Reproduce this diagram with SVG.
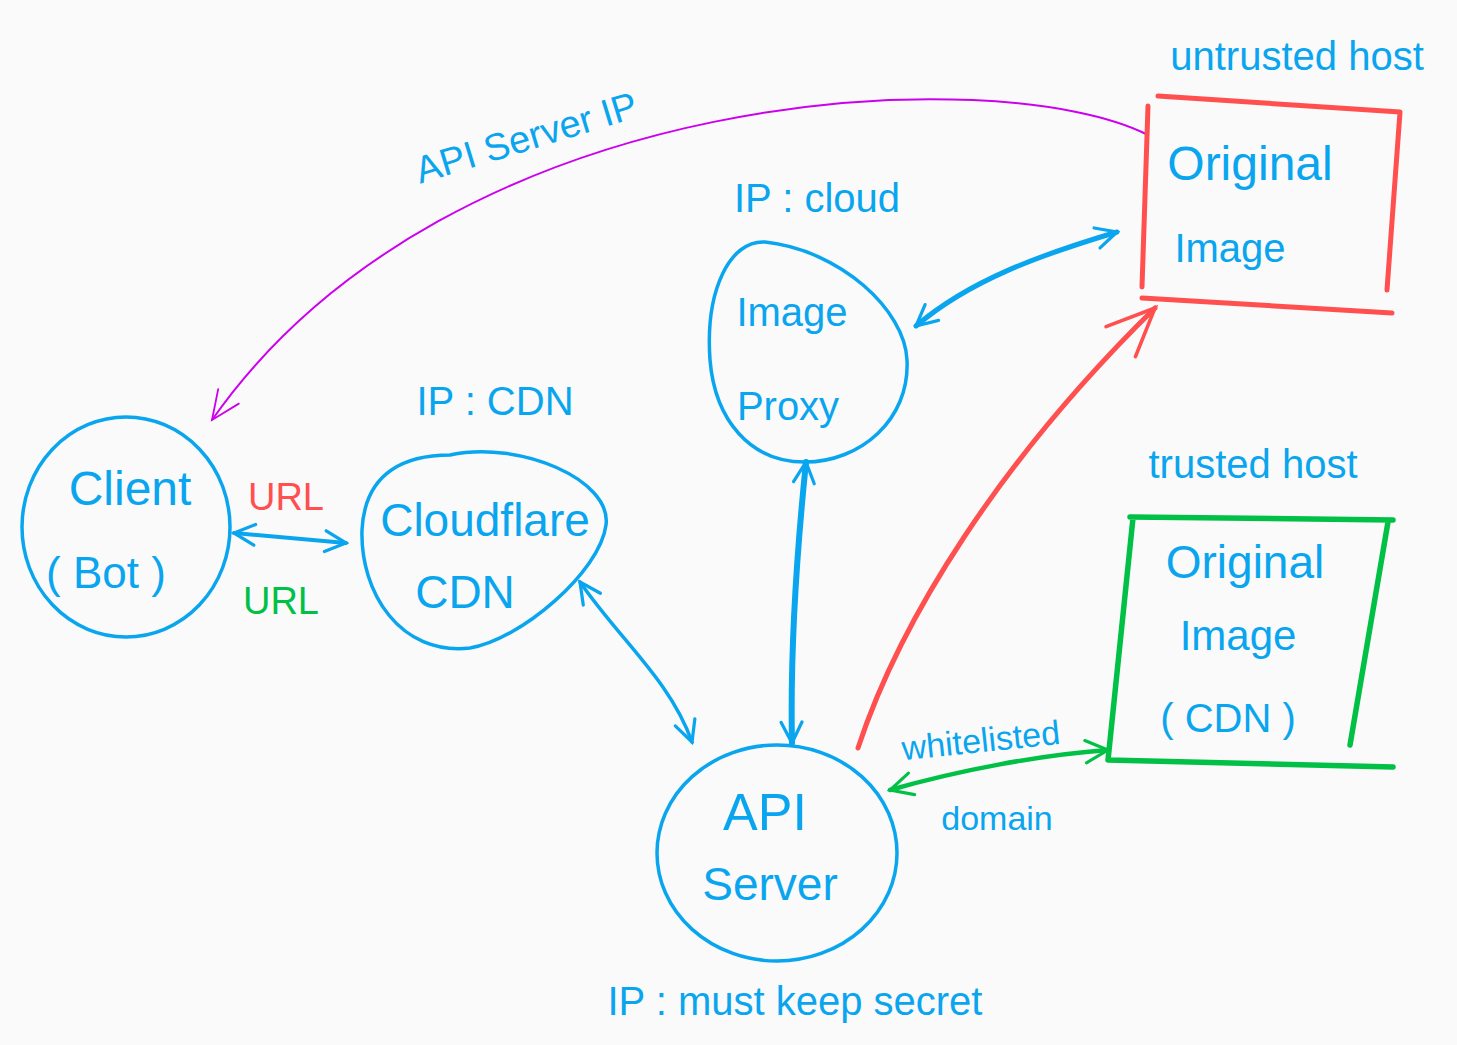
<svg xmlns="http://www.w3.org/2000/svg" width="1457" height="1045" viewBox="0 0 1457 1045">
<style>
.bg{fill:#fafafa}
.t{font-family:"Liberation Sans","DejaVu Sans",sans-serif;fill:#0aa5ef;text-anchor:middle}
.node{fill:none;stroke:#0aa5ef;stroke-width:3.5;stroke-linecap:round}
.red{fill:none;stroke:#ff4f4f;stroke-width:5;stroke-linecap:round}
.grn{fill:none;stroke:#00c046;stroke-width:5.5;stroke-linecap:round}
.cb{fill:none;stroke:#0aa5ef;stroke-linecap:round}
</style>
<defs>
<marker id="ab" viewBox="0 0 20 20" refX="18" refY="10" markerWidth="26" markerHeight="26" markerUnits="userSpaceOnUse" orient="auto-start-reverse"><path d="M2,2 L18,10 L2,18" fill="none" stroke="#0aa5ef" stroke-width="2.5" stroke-linecap="round"/></marker>
<marker id="ar" viewBox="0 0 20 20" refX="18" refY="10" markerWidth="60" markerHeight="60" markerUnits="userSpaceOnUse" orient="auto"><path d="M2,3 L18,10 L2,17" fill="none" stroke="#ff4f4f" stroke-width="1.2" stroke-linecap="round"/></marker>
<marker id="ag" viewBox="0 0 20 20" refX="18" refY="10" markerWidth="28" markerHeight="28" markerUnits="userSpaceOnUse" orient="auto-start-reverse"><path d="M2,2 L18,10 L2,18" fill="none" stroke="#00c046" stroke-width="2.2" stroke-linecap="round"/></marker>
<marker id="ap" viewBox="0 0 20 20" refX="18" refY="10" markerWidth="36" markerHeight="36" markerUnits="userSpaceOnUse" orient="auto"><path d="M2,3 L18,10 L2,17" fill="none" stroke="#cc00ee" stroke-width="1" stroke-linecap="round"/></marker>
</defs>
<rect class="bg" x="0" y="0" width="1457" height="1045"/>

<g id="connectors">
<path d="M1148,135 C 1000,60 450,80 212,420" fill="none" stroke="#cc00ee" stroke-width="2" marker-end="url(#ap)"/>
<path class="cb" stroke-width="4" d="M234,533 L346,543" marker-start="url(#ab)" marker-end="url(#ab)"/>
<path class="cb" stroke-width="3.5" d="M580,582 C 620,640 670,680 692,742" marker-start="url(#ab)" marker-end="url(#ab)"/>
<path class="cb" stroke-width="6" d="M806,462 C 796,560 790,650 792,743" marker-start="url(#ab)" marker-end="url(#ab)"/>
<path class="cb" stroke-width="5" d="M916,326 C 970,280 1040,255 1117,232" marker-start="url(#ab)" marker-end="url(#ab)"/>
<path class="red" stroke-width="3.5" d="M858,748 C 900,620 1000,460 1155,308" marker-end="url(#ar)"/>
<path fill="none" stroke="#00c046" stroke-width="4.5" stroke-linecap="round" d="M890,790 C 960,770 1040,755 1108,750" marker-start="url(#ag)" marker-end="url(#ag)"/>
</g>

<g id="client">
<ellipse class="node" cx="126" cy="527" rx="104" ry="110"/>
<text class="t" x="130" y="505" font-size="48">Client</text>
<text class="t" x="106" y="588" font-size="44">( Bot )</text>
</g>

<g id="cdn">
<path class="node" d="M450,455 C 520,440 612,480 606,525 C 600,572 520,640 470,648 C 400,656 360,592 362,530 C 365,470 408,455 450,455 Z"/>
<text class="t" x="485" y="536" font-size="46">Cloudflare</text>
<text class="t" x="465" y="608" font-size="46">CDN</text>
<text class="t" x="495" y="415" font-size="40">IP : CDN</text>
</g>

<g id="proxy">
<path class="node" d="M765,242 C 840,250 905,310 907,360 C 910,420 860,462 805,462 C 750,462 715,420 710,360 C 705,290 730,240 765,242 Z"/>
<text class="t" x="792" y="326" font-size="40">Image</text>
<text class="t" x="788" y="420" font-size="40">Proxy</text>
<text class="t" x="817" y="212" font-size="40">IP : cloud</text>
</g>

<g id="api">
<ellipse class="node" cx="777" cy="853" rx="120" ry="108"/>
<text class="t" x="765" y="830" font-size="52">API</text>
<text class="t" x="770" y="900" font-size="46">Server</text>
<text class="t" x="795" y="1015" font-size="40">IP : must keep secret</text>
</g>

<g id="untrusted">
<path class="red" d="M1158,96 L1400,112 M1400,112 L1387,290 M1142,298 L1392,313 M1148,106 L1142,287"/>
<text class="t" x="1250" y="180" font-size="48">Original</text>
<text class="t" x="1230" y="262" font-size="40">Image</text>
<text class="t" x="1297" y="70" font-size="40">untrusted host</text>
</g>

<g id="trusted">
<path class="grn" d="M1130,517 L1393,520 M1388,522 L1350,745 M1108,760 L1393,767 M1133,518 L1108,760"/>
<text class="t" x="1245" y="578" font-size="46">Original</text>
<text class="t" x="1238" y="650" font-size="42">Image</text>
<text class="t" x="1228" y="732" font-size="40">( CDN )</text>
<text class="t" x="1253" y="478" font-size="40">trusted host</text>
</g>

<g id="labels">
<text class="t" font-size="38" transform="translate(530,150) rotate(-17)">API Server IP</text>
<text class="t" x="286" y="510" font-size="38" style="fill:#ff4f4f">URL</text>
<text class="t" x="281" y="614" font-size="38" style="fill:#00c046">URL</text>
<text class="t" font-size="34" transform="translate(982,752) rotate(-6)">whitelisted</text>
<text class="t" x="997" y="830" font-size="34">domain</text>
</g>
</svg>
